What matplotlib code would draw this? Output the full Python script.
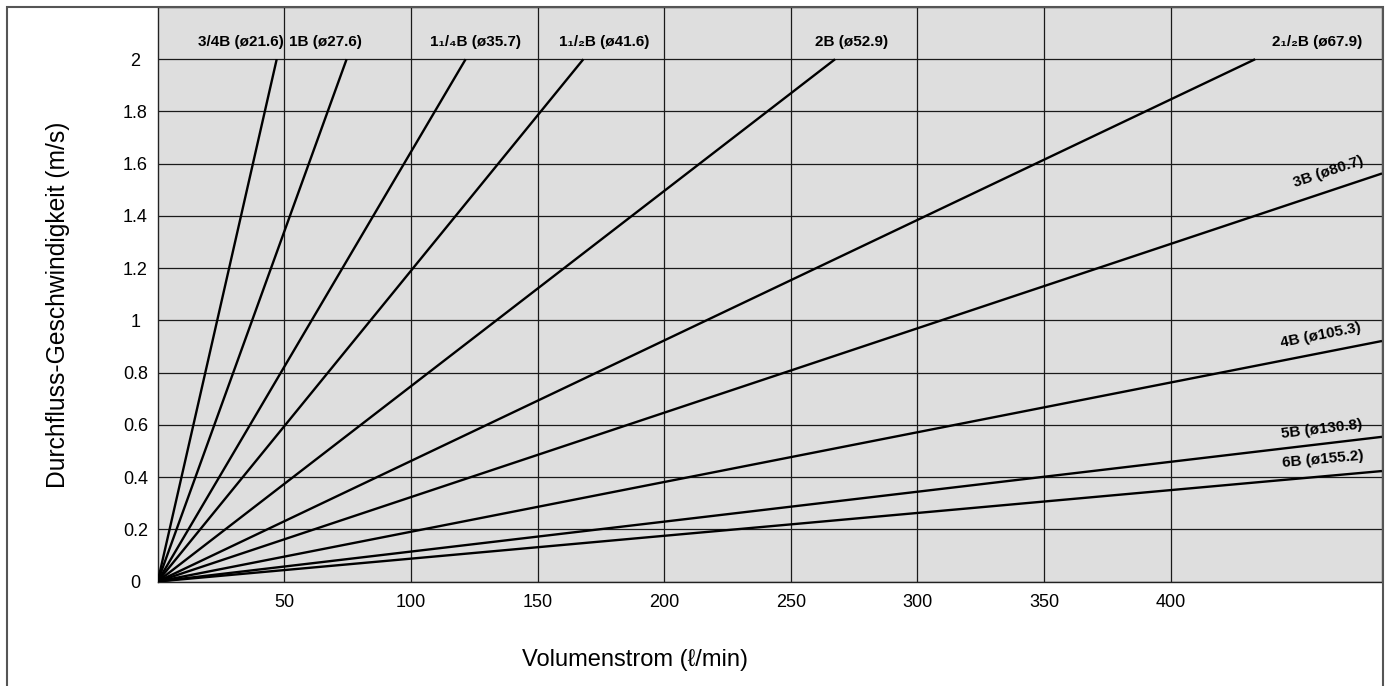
import matplotlib
matplotlib.use("Agg")
import matplotlib.pyplot as plt
from matplotlib.patches import Rectangle

plt.rcParams['font.family'] = ['Liberation Sans', 'DejaVu Sans']

# Rohrgrößen und Endpunkte der Geraden (Ursprung -> Ende)
bezeichnung = ["3/4B (ø21.6)", "1B (ø27.6)", "1₁/₄B (ø35.7)", "1₁/₂B (ø41.6)",
               "2B (ø52.9)", "2₁/₂B (ø67.9)", "3B (ø80.7)", "4B (ø105.3)",
               "5B (ø130.8)", "6B (ø155.2)"]
q_ende = [47.0, 74.6, 121.6, 168.1, 267.5, 433.4, 483.5, 483.5, 483.5, 483.5]
v_ende = [2.0, 2.0, 2.0, 2.0, 2.0, 2.0, 1.5625, 0.921, 0.554, 0.423]

x_ticks = [50, 100, 150, 200, 250, 300, 350, 400]
y_ticks = [0, 0.2, 0.4, 0.6, 0.8, 1, 1.2, 1.4, 1.6, 1.8, 2]
y_tick_labels = ["0", "0.2", "0.4", "0.6", "0.8", "1", "1.2", "1.4", "1.6", "1.8", "2"]

# Lage der Beschriftungen (x, y, Drehung)
label_pos = [(32.7, 2.065, 0), (66.1, 2.065, 0), (125.7, 2.065, 0), (176.5, 2.065, 0),
             (274.2, 2.065, 0), (457.7, 2.065, 0), (462.2, 1.567, 18.4),
             (459.4, 0.944, 11.1), (459.8, 0.584, 6.8), (460.2, 0.469, 5.2)]

W, H = 1394, 686
fig = plt.figure(figsize=(W / 100, H / 100), dpi=100)
ax = fig.add_axes([157.7 / W, 1 - 581.5 / H, (1382 - 157.7) / W, (581.5 - 7) / H])
ax.set_facecolor('#dedede')

for q, v in zip(q_ende, v_ende):
    ax.plot([0, q], [0, v], color='black', linewidth=1.7, solid_capstyle='butt', zorder=3)

for txt, (lx, ly, rot) in zip(bezeichnung, label_pos):
    ax.text(lx, ly, txt, ha='center', va='center', rotation=rot, rotation_mode='anchor',
            fontsize=11, fontweight='bold', zorder=4)

ax.set_xlim(0, 483.5)
ax.set_ylim(0, 2.2)
ax.set_xticks(x_ticks)
ax.set_xticklabels([str(t) for t in x_ticks])
ax.set_yticks(y_ticks)
ax.set_yticklabels(y_tick_labels)
ax.grid(True, color='#1a1a1a', linewidth=0.9, zorder=1)
ax.set_axisbelow(True)
ax.tick_params(axis='both', length=0, labelsize=13)
ax.tick_params(axis='x', pad=9)
ax.tick_params(axis='y', pad=16)
for lbl in ax.get_yticklabels():
    lbl.set_horizontalalignment('center')

for s in ax.spines.values():
    s.set_color('#222222')
    s.set_linewidth(1.0)
ax.spines['right'].set_color('#555555')

fig.text(634.5 / W, 1 - 660 / H, "Volumenstrom (ℓ/min)", ha='center', va='center', fontsize=17)
fig.text(58 / W, 1 - 305 / H, "Durchfluss-Geschwindigkeit (m/s)", ha='center', va='center',
         rotation=90, fontsize=17.7)

# äußerer Rahmen
fig.patches.append(Rectangle((6.5 / W, -0.02), (1383 - 6.5) / W, 0.02 + 1 - 7 / H,
                             transform=fig.transFigure, fill=False,
                             edgecolor='#555555', linewidth=1.5))

fig.savefig("out.png", dpi=100)
